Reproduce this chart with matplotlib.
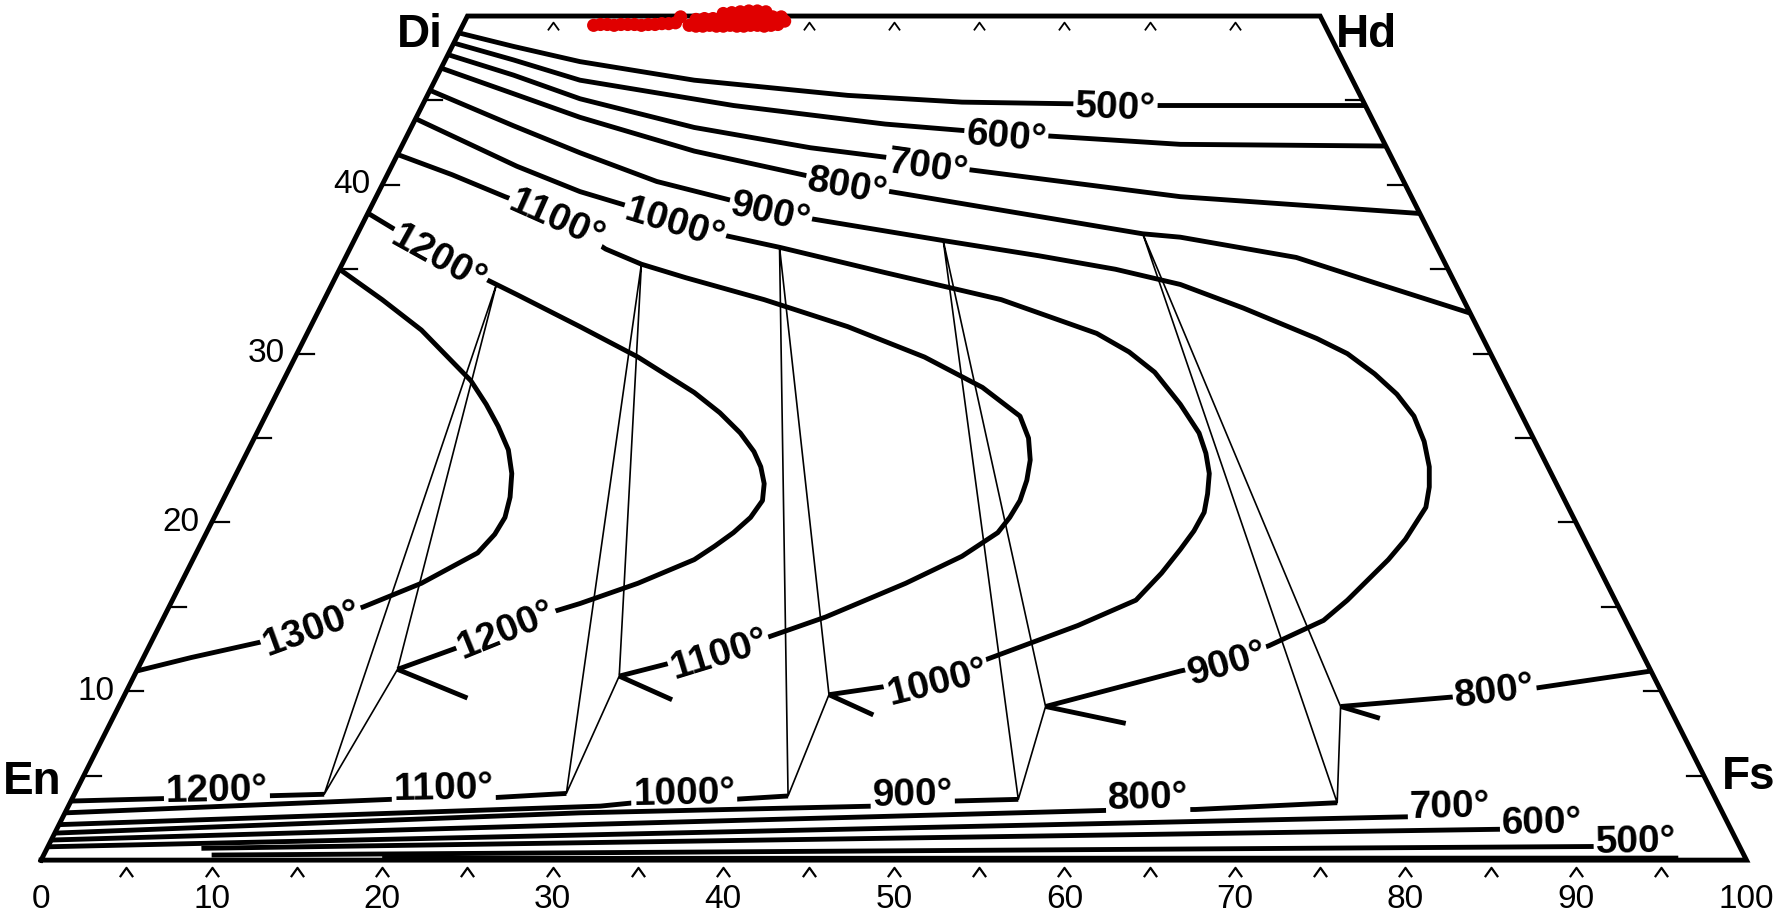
import matplotlib.pyplot as plt
from matplotlib.path import Path

plt.rcParams['font.family'] = ['Liberation Sans', 'DejaVu Sans']

# Pyroxene quadrilateral En-Fs-Hd-Di
# x  = reading on the base scale (0-100), wo = reading on the Wo scale (0-50)

# augite isotherms that run to the Hd-Fs side
aug500_x = [24.5, 27.7, 31.6, 38.3, 47.3, 54.0, 60.6, 65.4, 77.7]
aug500_wo = [49.0, 48.2, 47.3, 46.2, 45.3, 44.9, 44.8, 44.7, 44.7]
aug600_x = [24.2, 27.7, 31.6, 40.6, 49.5, 54.3, 59.0, 66.8, 78.9]
aug600_wo = [48.4, 47.4, 46.2, 44.7, 43.6, 43.2, 42.9, 42.4, 42.3]
aug700_x = [23.9, 27.7, 31.6, 38.3, 45.1, 49.8, 54.4, 66.8, 80.9]
aug700_wo = [47.7, 46.5, 45.1, 43.4, 42.2, 41.6, 40.9, 39.3, 38.3]
aug800_x = [23.5, 27.7, 31.6, 38.3, 45.1, 49.8, 64.6, 66.8, 73.6, 78.2, 83.8]
aug800_wo = [46.9, 45.4, 44.0, 42.0, 40.5, 39.6, 37.1, 36.9, 35.7, 34.2, 32.4]

# closed augite-pigeonite loops (augite limb -> nose -> pigeonite limb)
loop900_x = [22.8, 27.7, 31.6, 36.1, 40.4, 45.1, 52.9, 58.5, 63.0, 66.8, 70.5, 74.8,
             76.6, 78.2, 79.5, 80.5, 81.1, 81.4, 81.4, 81.2, 80.0, 79.0, 77.8, 76.6,
             75.2, 72.0, 69.5, 66.8, 58.9]
loop900_wo = [45.6, 43.5, 41.9, 40.2, 39.1, 38.0, 36.7, 35.8, 35.0, 34.1, 32.7, 30.9,
              30.0, 28.8, 27.6, 26.3, 24.8, 23.3, 22.1, 20.9, 19.0, 17.8, 16.6, 15.4,
              14.2, 12.7, 11.8, 11.2, 9.1]
loop1000_x = [22.0, 27.9, 31.6, 37.2, 40.1, 43.3, 49.5, 56.3, 61.9, 63.8, 65.3, 66.8,
              67.9, 68.3, 68.5, 68.4, 68.2, 67.6, 66.8, 65.7, 64.2, 60.8, 55.2, 52.5,
              49.6, 46.2]
loop1000_wo = [43.9, 41.1, 39.6, 37.9, 37.0, 36.3, 34.8, 33.2, 31.2, 30.1, 28.9, 27.0,
               25.3, 24.1, 22.9, 21.7, 20.6, 19.5, 18.4, 17.0, 15.4, 13.9, 11.8, 10.7,
               10.3, 9.8]
loop1100_x = [20.9, 24.1, 27.2, 30.1, 33.1, 35.2, 37.8, 42.4, 47.3, 51.8, 55.2, 57.4,
              57.9, 58.0, 57.8, 57.4, 56.8, 56.1, 54.0, 50.7, 46.0, 42.6, 39.7, 37.0, 33.9]
loop1100_wo = [41.8, 40.6, 39.3, 38.2, 36.2, 35.3, 34.5, 33.2, 31.6, 29.8, 28.0, 26.3,
               25.0, 23.7, 22.5, 21.3, 20.3, 19.4, 18.0, 16.4, 14.4, 13.2, 12.4, 11.7, 10.9]
loop1200_x = [19.2, 21.0, 23.4, 25.9, 26.7, 27.9, 31.6, 35.0, 38.3, 39.8, 41.0, 41.8,
              42.2, 42.4, 42.3, 41.6, 40.6, 39.5, 38.3, 35.0, 31.6, 27.7, 25.0, 20.9]
loop1200_wo = [38.3, 37.2, 35.8, 34.5, 34.1, 33.5, 31.6, 29.8, 27.7, 26.5, 25.3, 24.2,
               23.3, 22.3, 21.3, 20.3, 19.4, 18.6, 17.8, 16.4, 15.2, 14.0, 12.8, 11.3]
loop1300_x = [5.6, 8.8, 12.8, 15.8, 18.9, 22.3, 25.6, 26.6, 27.2, 27.5, 27.6, 27.4,
              26.8, 26.1, 25.2, 22.3, 20.0, 17.5]
loop1300_wo = [11.2, 12.0, 12.9, 13.9, 15.0, 16.4, 18.2, 19.3, 20.3, 21.5, 22.9, 24.3,
               25.7, 27.0, 28.4, 31.4, 33.2, 35.0]

# 800 pigeonite limb from the Fs side
pig800_x = [94.4, 87.7, 85.2, 83.2, 76.2]
pig800_wo = [11.2, 10.2, 10.2, 9.7, 9.1]

# short arms at the pigeonite corners (1200, 1100, 1000, 900, 800)
arm_x = [[20.9, 25.0], [33.9, 37.0], [46.2, 48.8], [58.9, 63.6], [76.2, 78.5]]
arm_wo = [[11.3, 9.6], [10.9, 9.5], [9.8, 8.6], [9.1, 8.1], [9.1, 8.4]]

# three-phase triangles: augite, pigeonite, orthopyroxene corners
tri_aug_x = [26.7, 35.2, 43.3, 52.9, 64.6]
tri_aug_wo = [34.1, 35.3, 36.3, 36.7, 37.1]
tri_pig_x = [20.9, 33.9, 46.2, 58.9, 76.2]
tri_pig_wo = [11.3, 10.9, 9.8, 9.1, 9.1]
tri_opx_x = [16.6, 30.8, 43.8, 57.3, 76.0]
tri_opx_wo = [3.9, 3.95, 3.8, 3.6, 3.4]

# orthopyroxene isotherms near the En-Fs join
opx_x = [[1.8, 16.6],
         [1.4, 20.5, 26.5, 30.8],
         [1.0, 32.8, 34.8, 40.6, 43.8],
         [0.8, 31.6, 48.9, 53.5, 57.3],
         [0.6, 31.6, 63.0, 67.7, 76.0],
         [0.4, 80.3],
         [9.4, 85.7],
         [10.0, 91.4],
         [20.0, 96.0]]
opx_wo = [[3.5, 3.9],
          [2.8, 3.6, 3.7, 3.95],
          [2.1, 3.2, 3.4, 3.6, 3.8],
          [1.6, 2.8, 3.2, 3.5, 3.6],
          [1.19, 2.1, 2.96, 3.0, 3.4],
          [0.79, 2.57],
          [0.70, 1.83],
          [0.30, 0.81],
          [0.10, 0.12]]

# isotherm labels
upper_text = ['500°', '600°', '700°', '800°', '900°', '1000°', '1100°', '1200°']
upper_x = [63.0, 56.6, 52.0, 47.3, 42.8, 37.2, 30.3, 23.4]
upper_wo = [44.75, 43.05, 41.27, 40.08, 38.54, 37.9, 38.1, 35.8]
upper_rot = [-2, -5, -8, -10, -13, -17, -24, -29]

lower_text = ['1300°', '1200°', '1100°', '1000°', '900°', '800°']
lower_x = [15.8, 27.2, 39.7, 52.5, 69.5, 85.2]
lower_wo = [13.93, 13.8, 12.4, 10.7, 11.8, 10.2]
lower_rot = [20, 22, 17, 14, 16, 7]

opx_text = ['1200°', '1100°', '1000°', '900°', '800°', '700°', '600°', '500°']
opx_lab_x = [10.3, 23.6, 37.7, 51.1, 64.9, 82.6, 88.0, 93.5]
opx_lab_wo = [4.35, 4.45, 4.15, 4.06, 3.9, 3.38, 2.44, 1.29]

# red data points along the Di-Hd join
red_x = [32.4, 32.8, 33.2, 33.6, 34.0, 34.4, 34.8, 35.2, 35.6, 36.0, 36.4, 36.8, 37.2,
         37.5,
         38.0, 38.4, 38.8, 39.2, 39.6, 40.0, 40.4, 40.8, 41.2, 41.6, 42.0, 42.4, 42.8,
         43.2, 43.6,
         38.4, 38.9, 39.4, 39.9, 40.4, 40.9, 41.4, 41.9, 42.4, 42.9, 43.4,
         40.0, 40.5, 41.0, 41.5, 42.0, 42.5]
red_wo = [49.45, 49.5, 49.5, 49.45, 49.5, 49.5, 49.5, 49.45, 49.5, 49.5, 49.55, 49.55,
          49.6, 49.95,
          49.45, 49.4, 49.4, 49.45, 49.4, 49.4, 49.45, 49.4, 49.4, 49.45, 49.45, 49.4,
          49.45, 49.5, 49.7,
          49.8, 49.85, 49.85, 49.9, 49.9, 49.9, 49.95, 49.95, 50.0, 49.95, 49.95,
          50.15, 50.2, 50.25, 50.3, 50.3, 50.25]

left_ticks = [5, 10, 15, 20, 25, 30, 35, 40, 45]
left_labels = [10, 20, 30, 40]
base_labels = [0, 10, 20, 30, 40, 50, 60, 70, 80, 90, 100]
base_carets = [5, 10, 15, 20, 25, 30, 35, 40, 45, 50, 55, 60, 65, 70, 75, 80, 85, 90, 95]
top_carets = [30, 35, 40, 45, 50, 55, 60, 65, 70]

# ---------------------------------------------------------------
fig = plt.figure(figsize=(17.91, 9.16), dpi=100)
ax = fig.add_axes([0, 0, 1, 1])
ax.set_xlim(-2.41, 102.61)
ax.set_ylim(-3.31, 50.95)
ax.axis('off')

thick = dict(color='black', lw=3.5, solid_capstyle='butt', solid_joinstyle='round')
thin = dict(color='black', lw=1.2)
lab_font = dict(fontsize=28, fontweight='bold', ha='center', va='center_baseline',
                rotation_mode='anchor',
                bbox=dict(boxstyle='square,pad=0.05', fc='white', ec='none'))

# outline
ax.plot([0, 100, 75, 25, 0], [0, 0, 50, 50, 0], color='black', lw=3.5,
        solid_joinstyle='miter', zorder=6)

for w in left_ticks:
    ax.plot([w / 2, w / 2 + 1.0], [w, w], color='black', lw=1.6, zorder=6)
    ax.plot([100 - w / 2, 100 - w / 2 - 1.0], [w, w], color='black', lw=1.6, zorder=6)
for w in left_labels:
    ax.text(w / 2 - 0.7, w, str(w), ha='right', va='center', fontsize=24)
for v in base_labels:
    ax.text(v, -2.35, str(v), ha='center', va='center', fontsize=24)

caret = Path([(-1, -0.7), (0, 0.7), (1, -0.7)], [Path.MOVETO, Path.LINETO, Path.LINETO])
ax.plot(base_carets, [-0.73] * len(base_carets), ls='none', marker=caret, ms=9.5,
        mfc='none', mec='black', mew=1.6)
ax.plot(top_carets, [49.42] * len(top_carets), ls='none', marker=caret, ms=8,
        mfc='none', mec='black', mew=1.3)

# corner names
corner = dict(fontsize=33, fontweight='bold', ha='center', va='center')
ax.text(22.2, 48.9, 'Di', **corner)
ax.text(77.7, 48.9, 'Hd', **corner)
ax.text(-0.5, 4.64, 'En', **corner)
ax.text(100.1, 4.94, 'Fs', **corner)

# upper isotherms and loops
for xs, ws in [(aug500_x, aug500_wo), (aug600_x, aug600_wo), (aug700_x, aug700_wo),
               (aug800_x, aug800_wo), (loop900_x, loop900_wo), (loop1000_x, loop1000_wo),
               (loop1100_x, loop1100_wo), (loop1200_x, loop1200_wo),
               (loop1300_x, loop1300_wo), (pig800_x, pig800_wo)]:
    ax.plot(xs, ws, zorder=3, **thick)
for xs, ws in zip(arm_x, arm_wo):
    ax.plot(xs, ws, zorder=3, **thick)

# three-phase triangles
for i in range(len(tri_aug_x)):
    ax.plot([tri_aug_x[i], tri_pig_x[i], tri_opx_x[i], tri_aug_x[i]],
            [tri_aug_wo[i], tri_pig_wo[i], tri_opx_wo[i], tri_aug_wo[i]], zorder=2, **thin)

# orthopyroxene isotherms, each drawn over the label of the one above it
for i, (xs, ws) in enumerate(zip(opx_x, opx_wo)):
    ax.plot(xs, ws, zorder=3 + 0.1 * i, **thick)
    if i < len(opx_text):
        ax.text(opx_lab_x[i], opx_lab_wo[i], opx_text[i], rotation=1,
                zorder=3.05 + 0.1 * i, **lab_font)

for t, x, w, r in zip(upper_text, upper_x, upper_wo, upper_rot):
    ax.text(x, w, t, rotation=r, zorder=5, **lab_font)
for t, x, w, r in zip(lower_text, lower_x, lower_wo, lower_rot):
    ax.text(x, w, t, rotation=r, zorder=5, **lab_font)

ax.scatter(red_x, red_wo, s=90, color='#e00000', edgecolors='none', zorder=8)

fig.savefig('out.png', dpi=100)
